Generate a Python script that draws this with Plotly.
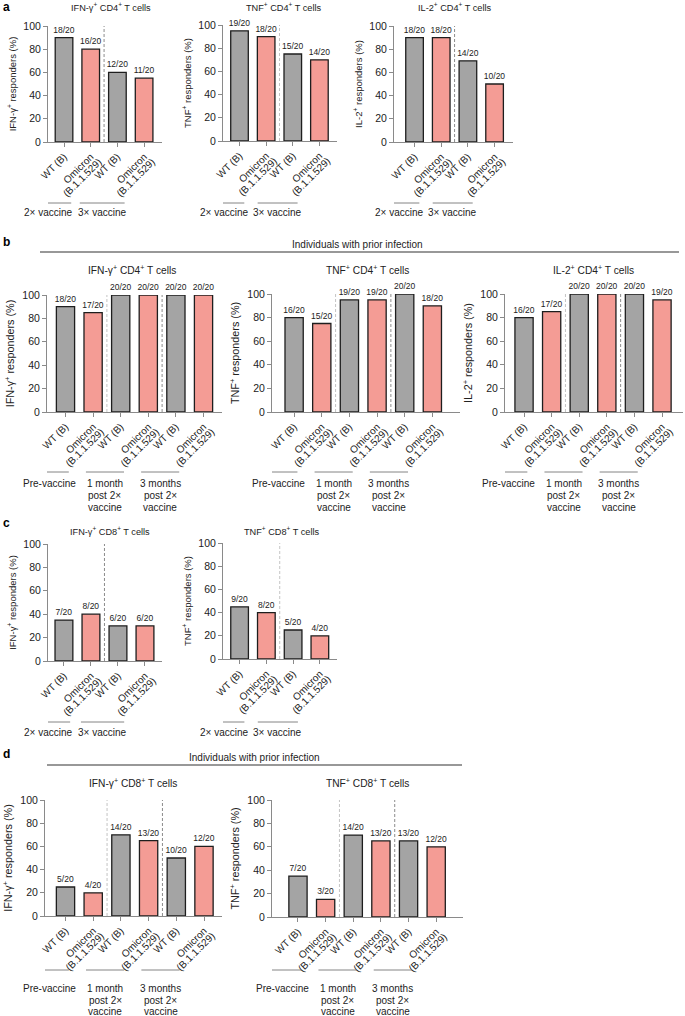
import plotly.graph_objects as go

W, H = 685, 1016

# ---------------- data ----------------
categories = ["WT (B)", "Omicron"]
category_sub = ["", "(B.1.1.529)"]
n_total = 20

a_ifng_cd4 = [18, 16, 12, 11]
a_tnf_cd4 = [19, 18, 15, 14]
a_il2_cd4 = [18, 18, 14, 10]

b_ifng_cd4 = [18, 17, 20, 20, 20, 20]
b_tnf_cd4 = [16, 15, 19, 19, 20, 18]
b_il2_cd4 = [16, 17, 20, 20, 20, 19]

c_ifng_cd8 = [7, 8, 6, 6]
c_tnf_cd8 = [9, 8, 5, 4]

d_ifng_cd8 = [5, 4, 14, 13, 10, 12]
d_tnf_cd8 = [7, 3, 14, 13, 13, 12]

groups_vaccine = [["2× vaccine"], ["3× vaccine"]]
groups_prior = [["Pre-vaccine"], ["1 month", "post 2×", "vaccine"], ["3 months", "post 2×", "vaccine"]]

y_ticks = [0, 20, 40, 60, 80, 100]

titles = {
    "ifng4": "IFN-γ<sup>+</sup> CD4<sup>+</sup> T cells",
    "tnf4": "TNF<sup>+</sup> CD4<sup>+</sup> T cells",
    "il24": "IL-2<sup>+</sup> CD4<sup>+</sup> T cells",
    "ifng8": "IFN-γ<sup>+</sup> CD8<sup>+</sup> T cells",
    "tnf8": "TNF<sup>+</sup> CD8<sup>+</sup> T cells",
}
ytitles = {
    "ifng": "IFN-γ<sup>+</sup> responders (%)",
    "tnf": "TNF<sup>+</sup> responders (%)",
    "il2": "IL-2<sup>+</sup> responders (%)",
}
section_text = "Individuals with prior infection"

# ---------------- style ----------------
FONT = "Liberation Sans, Arial, Helvetica, sans-serif"
GRAY = "#a4a4a4"
PINK = "#f49c95"
OUTLINE = "#1e1e1e"
AXIS = "#8a8a8a"
TXT = "#222222"
DASH_LIGHT = "#c4c4c4"
DASH_DARK = "#8c8c8c"

SMALL = dict(tfs=9.2, yfs=9.5)
LARGE = dict(tfs=10.2, yfs=10.8)
ROW_A = dict(gline=203, glines=[213])
ROW_B = dict(gline=472, glines=[483, 495, 507])
ROW_C = dict(gline=722, glines=[732])
ROW_D = dict(gline=970, glines=[988, 1000, 1011])

panels = [
    dict(counts=a_ifng_cd4, groups=groups_vaccine, title=titles["ifng4"], ytitle=ytitles["ifng"],
         px=(48, 162), py=(26, 142), rng=(-0.6, 3.67), tc=(111, 7), fs=10, **SMALL, **ROW_A,
         half=0.84, dcol=[DASH_DARK]),
    dict(counts=a_tnf_cd4, groups=groups_vaccine, title=titles["tnf4"], ytitle=ytitles["tnf"],
         px=(223, 337), py=(25, 141), rng=(-0.62, 3.66), tc=(283, 7), fs=10, **SMALL, **ROW_A,
         half=0.75, dcol=[DASH_LIGHT]),
    dict(counts=a_il2_cd4, groups=groups_vaccine, title=titles["il24"], ytitle=ytitles["il2"],
         px=(394, 513), py=(26, 142), rng=(-0.77, 3.69), tc=(454, 7), fs=10, **SMALL, **ROW_A,
         half=0.75, dcol=[DASH_DARK]),
    dict(counts=b_ifng_cd4, groups=groups_prior, title=titles["ifng4"], ytitle=ytitles["ifng"],
         px=(47, 222), py=(295, 412), rng=(-0.67, 5.67), tc=(132, 270), fs=10, **LARGE, **ROW_B,
         half=0.69, dcol=[DASH_LIGHT, DASH_DARK]),
    dict(counts=b_tnf_cd4, groups=groups_prior, title=titles["tnf4"], ytitle=ytitles["tnf"],
         px=(272, 460), py=(294, 412), rng=(-0.8, 6.0), tc=(367, 270), fs=10, **LARGE, **ROW_B,
         half=0.69, dcol=[DASH_LIGHT, DASH_DARK]),
    dict(counts=b_il2_cd4, groups=groups_prior, title=titles["il24"], ytitle=ytitles["il2"],
         px=(505, 683), py=(294, 412), rng=(-0.69, 5.76), tc=(593, 270), fs=10, **LARGE, **ROW_B,
         half=0.69, dcol=[DASH_LIGHT, DASH_DARK]),
    dict(counts=c_ifng_cd8, groups=groups_vaccine, title=titles["ifng8"], ytitle=ytitles["ifng"],
         px=(48, 162), py=(544, 661), rng=(-0.59, 3.63), tc=(110, 531), fs=10, **SMALL, **ROW_C,
         half=0.8, dcol=[DASH_DARK]),
    dict(counts=c_tnf_cd8, groups=groups_vaccine, title=titles["tnf8"], ytitle=ytitles["tnf"],
         px=(223, 337), py=(543, 659), rng=(-0.62, 3.64), tc=(281, 531), fs=10, **SMALL, **ROW_C,
         half=0.75, dcol=[DASH_LIGHT]),
    dict(counts=d_ifng_cd8, groups=groups_prior, title=titles["ifng8"], ytitle=ytitles["ifng"],
         px=(45, 222), py=(800, 916), rng=(-0.74, 5.65), tc=(133, 783), fs=10, **LARGE, **ROW_D,
         half=0.69, dcol=[DASH_LIGHT, DASH_DARK]),
    dict(counts=d_tnf_cd8, groups=groups_prior, title=titles["tnf8"], ytitle=ytitles["tnf"],
         px=(272, 463), py=(800, 917), rng=(-0.94, 5.97), tc=(367, 783), fs=10, **LARGE, **ROW_D,
         half=0.69, dcol=[DASH_LIGHT, DASH_DARK]),
]


def fx(px):
    return px / W


def fy(py):
    return 1 - py / H


fig = go.Figure()
shapes = []
annotations = []
NP = len(panels)

for i, p in enumerate(panels):
    k = i + 1
    sx = "" if k == 1 else str(k)
    xref, yref = "x" + sx, "y" + sx
    kx2 = k + NP
    xref2 = "x" + str(kx2)
    counts = p["counts"]
    n = len(counts)
    xs = list(range(n))
    vals = [c / n_total * 100 for c in counts]
    colors = [GRAY if j % 2 == 0 else PINK for j in range(n)]
    fig.add_trace(go.Bar(
        x=xs, y=vals, xaxis=xref, yaxis=yref, width=0.66,
        marker=dict(color=colors, line=dict(color=OUTLINE, width=1.3)),
        text=[f"{c}/{n_total}" for c in counts], textposition="outside",
        textfont=dict(size=8.5, color=TXT, family=FONT), constraintext="none",
        cliponaxis=False, hoverinfo="skip", showlegend=False,
    ))
    sub_x = [j for j in xs if category_sub[j % 2]]
    fig.add_trace(go.Scatter(
        x=sub_x, y=[0] * len(sub_x), xaxis=xref2, yaxis=yref, mode="markers",
        marker=dict(opacity=0, size=1), hoverinfo="skip", showlegend=False,
    ))
    dom = [fx(p["px"][0]), fx(p["px"][1])]
    fig.update_layout(**{
        "xaxis" + sx: dict(
            domain=dom, anchor=yref, range=list(p["rng"]), automargin=False,
            tickmode="array", tickvals=xs, ticktext=[categories[j % 2] for j in range(n)],
            tickangle=-45, ticks="outside", ticklen=4, tickcolor=AXIS, tickwidth=1,
            showline=True, linecolor=AXIS, linewidth=1, showgrid=False, zeroline=False,
            tickfont=dict(size=p["fs"], color=TXT, family=FONT), fixedrange=True,
        ),
        "xaxis" + str(kx2): dict(
            domain=dom, anchor=yref, overlaying=xref, range=list(p["rng"]), automargin=False,
            tickmode="array", tickvals=sub_x, ticktext=[category_sub[j % 2] for j in sub_x],
            tickangle=-45, ticks="", showline=False, showgrid=False, zeroline=False,
            ticklabelshift=8, ticklabelstandoff=11,
            tickfont=dict(size=p["fs"], color=TXT, family=FONT), fixedrange=True,
        ),
        "yaxis" + sx: dict(
            domain=[fy(p["py"][1]), fy(p["py"][0])], anchor=xref, range=[0, 100], automargin=False,
            tickmode="array", tickvals=y_ticks, ticks="outside", ticklen=4, tickcolor=AXIS,
            showline=True, linecolor=AXIS, linewidth=1, showgrid=False, zeroline=False,
            tickfont=dict(size=10.5, color=TXT, family=FONT),
            title=dict(text=p["ytitle"], font=dict(size=p["yfs"], color=TXT, family=FONT), standoff=5),
            fixedrange=True,
        ),
    })
    for g, col in enumerate(p["dcol"]):
        xd = 2 * g + 1.5
        shapes.append(dict(type="line", xref=xref, yref=yref + " domain", x0=xd, x1=xd, y0=0, y1=1,
                           line=dict(color=col, width=1, dash="3px,2px")))
    for g, lines in enumerate(p["groups"]):
        center = 2 * g + 0.5 - 1.07
        shapes.append(dict(type="line", xref=xref, yref="paper",
                           x0=center - p["half"], x1=center + p["half"],
                           y0=fy(p["gline"]), y1=fy(p["gline"]),
                           line=dict(color="#777777", width=0.9)))
        for li, txt in enumerate(lines):
            annotations.append(dict(text=txt, xref=xref, yref="paper", x=center, y=fy(p["glines"][li]),
                                    xanchor="center", yanchor="middle", showarrow=False,
                                    font=dict(size=10, color=TXT, family=FONT)))
    annotations.append(dict(text=p["title"], xref="paper", yref="paper", x=fx(p["tc"][0]), y=fy(p["tc"][1]),
                            xanchor="center", yanchor="middle", showarrow=False,
                            font=dict(size=p["tfs"], color=TXT, family=FONT)))

for (lx0, lx1, ly, tx, ty) in [(40, 679, 252, 357, 244), (47, 462, 765, 254, 757)]:
    shapes.append(dict(type="line", xref="paper", yref="paper", x0=fx(lx0), x1=fx(lx1),
                       y0=fy(ly), y1=fy(ly), line=dict(color="#333333", width=1.1)))
    annotations.append(dict(text=section_text, xref="paper", yref="paper", x=fx(tx), y=fy(ty),
                            xanchor="center", yanchor="middle", showarrow=False,
                            font=dict(size=10, color=TXT, family=FONT)))

for lab, ly in [("a", 7), ("b", 242), ("c", 523), ("d", 754)]:
    annotations.append(dict(text=f"<b>{lab}</b>", xref="paper", yref="paper", x=fx(1), y=fy(ly),
                            xanchor="left", yanchor="middle", showarrow=False,
                            font=dict(size=12, color="#000000", family=FONT)))

fig.update_layout(
    width=W, height=H, margin=dict(l=0, r=0, t=0, b=0, autoexpand=False),
    paper_bgcolor="white", plot_bgcolor="white", showlegend=False,
    bargap=0.3, shapes=shapes, annotations=annotations,
    font=dict(family=FONT, color=TXT),
)

fig.write_html(
    "out.html",
    config={"displayModeBar": False},
    post_script="document.body.style.margin='0px';document.body.style.overflow='hidden';",
)
